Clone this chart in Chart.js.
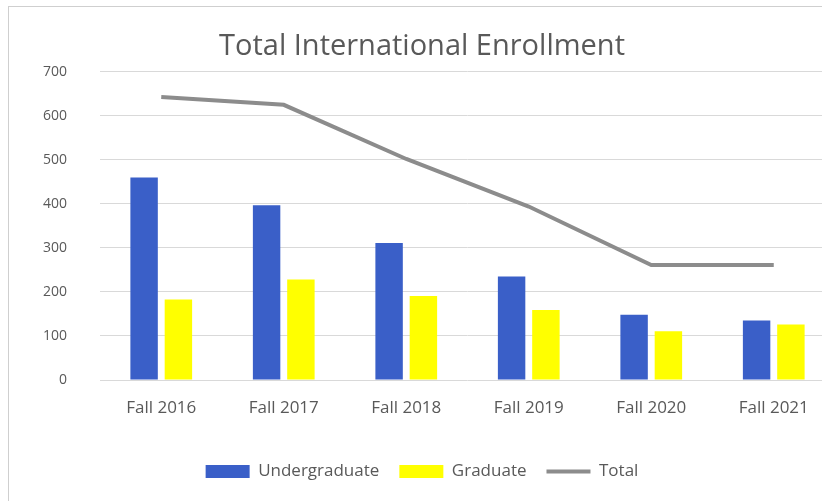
<!DOCTYPE html>
<html>
<head>
<meta charset="utf-8">
<script src="https://cdn.jsdelivr.net/npm/chart.js@4"></script>
<style>
  html, body { margin: 0; padding: 0; background: #fff; overflow: hidden; }
  #frame {
    position: absolute; left: 8px; top: 6px;
    width: 828px; height: 495px;
    border-left: 1px solid #cfcfcf; border-top: 1px solid #cfcfcf;
  }
  #enrollment-chart { display: block; }
</style>
</head>
<body>
<div id="frame"><canvas id="enrollment-chart" width="828" height="494"></canvas></div>
<script>
// data
const terms = ['Fall 2016', 'Fall 2017', 'Fall 2018', 'Fall 2019', 'Fall 2020', 'Fall 2021'];
const undergraduate = [460, 397, 311, 235, 148, 135];
const graduate = [183, 228, 191, 159, 111, 126];
const total = [643, 625, 502, 394, 261, 261];
const yTicks = [0, 100, 200, 300, 400, 500, 600, 700];

const textColor = '#595959';
const fontFamily = '"Open Sans", "Liberation Sans", sans-serif';

const ctx = document.getElementById('enrollment-chart').getContext('2d');

new Chart(ctx, {
  type: 'bar',
  data: {
    labels: terms,
    datasets: [
      {
        label: 'Undergraduate',
        data: undergraduate,
        backgroundColor: '#3a5fc8',
        pointStyle: 'rect',
        order: 2
      },
      {
        label: 'Graduate',
        data: graduate,
        backgroundColor: '#ffff00',
        pointStyle: 'rect',
        order: 2
      },
      {
        type: 'line',
        label: 'Total',
        data: total,
        borderColor: '#8c8c8c',
        backgroundColor: '#8c8c8c',
        borderWidth: 4,
        pointRadius: 0,
        pointStyle: 'line',
        tension: 0,
        order: 1
      }
    ]
  },
  options: {
    responsive: false,
    animation: false,
    layout: { padding: { left: 0, right: 2, top: 0, bottom: 11 } },
    datasets: {
      bar: { categoryPercentage: 0.56, barPercentage: 0.8 }
    },
    plugins: {
      title: {
        display: true,
        text: 'Total International Enrollment',
        color: textColor,
        font: { family: fontFamily, size: 29, weight: 'normal' },
        padding: { top: 22, bottom: 8 }
      },
      legend: {
        position: 'bottom',
        labels: {
          color: textColor,
          font: { family: fontFamily, size: 17 },
          usePointStyle: true,
          pointStyleWidth: 44,
          boxHeight: 13,
          padding: 20,
          // keep the legend in dataset order, not draw order
          sort: (a, b) => a.datasetIndex - b.datasetIndex
        }
      },
      tooltip: { enabled: false }
    },
    scales: {
      x: {
        grid: { display: false, drawTicks: false },
        border: { display: false },
        ticks: {
          color: textColor,
          font: { family: fontFamily, size: 17 },
          padding: 18,
          maxRotation: 0
        },
        afterFit: (scale) => { scale.height = 63; }
      },
      y: {
        min: 0,
        max: 700,
        afterBuildTicks: (scale) => { scale.ticks = yTicks.map(v => ({ value: v })); },
        grid: { color: '#d9d9d9', lineWidth: 1, drawTicks: false },
        border: { display: false },
        ticks: {
          color: textColor,
          font: { family: fontFamily, size: 14 },
          padding: 33
        },
        afterFit: (scale) => { scale.width = 91; }
      }
    }
  }
});
</script>
</body>
</html>
